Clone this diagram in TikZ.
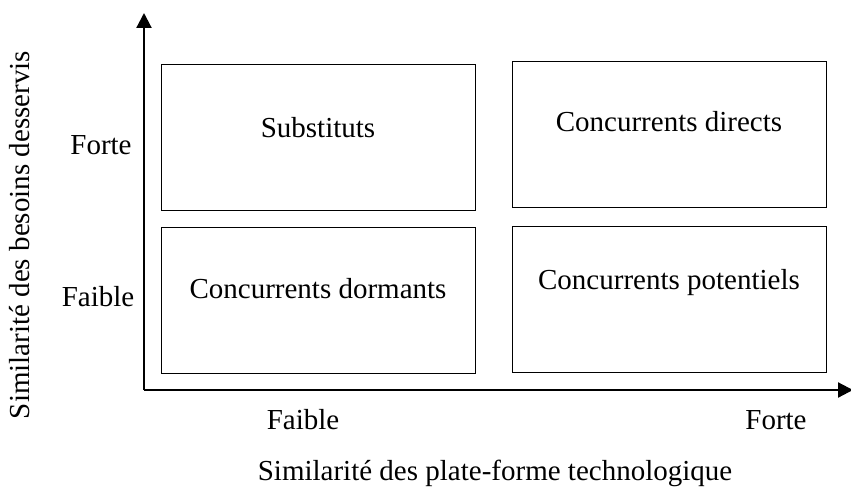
\documentclass[tikz,border=0pt]{standalone}
\usepackage{fontspec}
\setmainfont{Liberation Serif}
\usetikzlibrary{arrows.meta}
\begin{document}
\begin{tikzpicture}[x=1pt,y=-1pt,
  quad/.style={draw,line width=1.1pt,minimum width=314pt,minimum height=146pt,inner sep=0pt,anchor=north west},
  qtext/.style={font=\fontsize{29}{34}\selectfont,inner sep=0pt},
  lab/.style={font=\fontsize{29}{34}\selectfont,inner sep=0pt},
  axis/.style={line width=2.2pt,-{Triangle[length=15pt,width=15pt]}}]
\useasboundingbox (0,0) rectangle (851,489);
\coordinate (O) at (144,390);
\coordinate (ytip) at (144,13);
\coordinate (xtip) at (853,390);
\draw[axis] (O) -- (ytip);
\draw[axis] (O) -- (xtip);
\node[quad] (tl) at (161,64) {};
\node[quad] (bl) at (161,227) {};
\node[quad] (tr) at (512,61) {};
\node[quad] (br) at (512,226) {};
\node[qtext] (ttl) at (318,128) {Substituts};
\node[qtext] (tbl) at (318,289) {Concurrents dormants};
\node[qtext] (ttr) at (669,122) {Concurrents directs};
\node[qtext] (tbr) at (669,283) {Concurrents potentiels};
\node[lab] (yf) at (101,145) {Forte};
\node[lab] (ya) at (98,297) {Faible};
\node[lab] (xa) at (303,420) {Faible};
\node[lab] (xf) at (776,420) {Forte};
\node[lab,rotate=90] (ytitle) at (20,235) {Similarité des besoins desservis};
\node[lab] (xtitle) at (495,473) {Similarité des plate-forme technologique};
\end{tikzpicture}
\end{document}
